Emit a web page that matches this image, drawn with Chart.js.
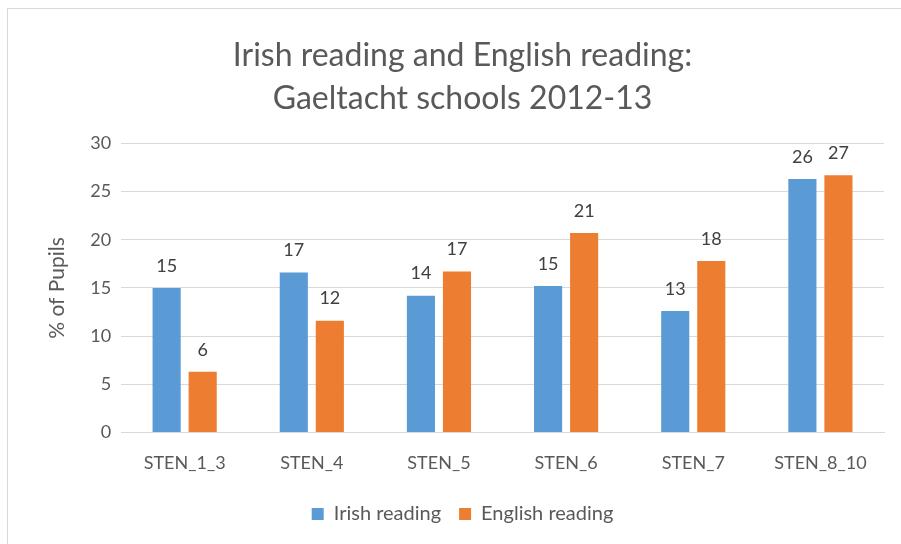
<!DOCTYPE html>
<html>
<head>
<meta charset="utf-8">
<script src="https://cdn.jsdelivr.net/npm/chart.js@4"></script>
<style>
  body { margin: 0; background: #fff; }
  #wrap { position: absolute; left: 0; top: 0; width: 901px; height: 544px; }
  #frame { position: absolute; left: 7px; top: 8px; width: 910px; height: 560px; border: 1px solid #d9d9d9; box-sizing: border-box; }
</style>
</head>
<body>
<div id="frame"></div>
<div id="wrap"><canvas id="chartSten"></canvas></div>
<script>
    const categorias = ['STEN_1_3', 'STEN_4', 'STEN_5', 'STEN_6', 'STEN_7', 'STEN_8_10'];
    const irish = [15.0, 16.6, 14.2, 15.2, 12.6, 26.3];
    const english = [6.3, 11.6, 16.7, 20.7, 17.8, 26.7];
    const yTicks = [0, 5, 10, 15, 20, 25, 30];

    const fonte = 'Lato';

    // rótulos com o valor arredondado acima de cada barra
    const rotulos = {
        id: 'rotulos',
        afterDatasetsDraw(chart) {
            const { ctx } = chart;
            ctx.save();
            ctx.font = '18px ' + fonte;
            ctx.fillStyle = '#404040';
            ctx.textAlign = 'center';
            ctx.textBaseline = 'bottom';
            chart.data.datasets.forEach((ds, i) => {
                chart.getDatasetMeta(i).data.forEach((bar, j) => {
                    ctx.fillText(Math.round(ds.data[j]), bar.x, bar.y - 13);
                });
            });
            ctx.restore();
        }
    };

    new Chart(document.getElementById('chartSten'), {
        type: 'bar',
        data: {
            labels: categorias,
            datasets: [
                { label: 'Irish reading', data: irish, backgroundColor: '#5b9bd5', barPercentage: 0.78, categoryPercentage: 0.567 },
                { label: 'English reading', data: english, backgroundColor: '#ed7d31', barPercentage: 0.78, categoryPercentage: 0.567 }
            ]
        },
        options: {
            responsive: true,
            maintainAspectRatio: false,
            animation: false,
            layout: { padding: { left: 41, right: 17, top: 35, bottom: 10 } },
            plugins: {
                title: {
                    display: true,
                    text: ['Irish reading and English reading:', 'Gaeltacht schools 2012-13'],
                    color: '#595959',
                    font: { family: fonte, size: 32, weight: 'normal', lineHeight: 1.32 },
                    padding: { top: 0, bottom: 24 }
                },
                legend: {
                    position: 'bottom',
                    labels: {
                        color: '#595959',
                        font: { family: fonte, size: 20 },
                        boxWidth: 12,
                        boxHeight: 12,
                        padding: 18
                    }
                },
                tooltip: { enabled: false }
            },
            scales: {
                y: {
                    min: 0,
                    max: 30,
                    afterBuildTicks(axis) {
                        axis.ticks = yTicks.map(v => ({ value: v }));
                    },
                    title: {
                        display: true,
                        text: '% of Pupils',
                        color: '#595959',
                        font: { family: fonte, size: 21 },
                        padding: { bottom: 10 }
                    },
                    ticks: { color: '#595959', font: { family: fonte, size: 18 }, padding: 10 },
                    grid: { color: '#d9d9d9', drawTicks: false },
                    border: { display: false }
                },
                x: {
                    ticks: { color: '#595959', font: { family: fonte, size: 18 }, padding: 12 },
                    grid: { display: false },
                    border: { color: '#d9d9d9' }
                }
            }
        },
        plugins: [rotulos]
    });
</script>
</body>
</html>
